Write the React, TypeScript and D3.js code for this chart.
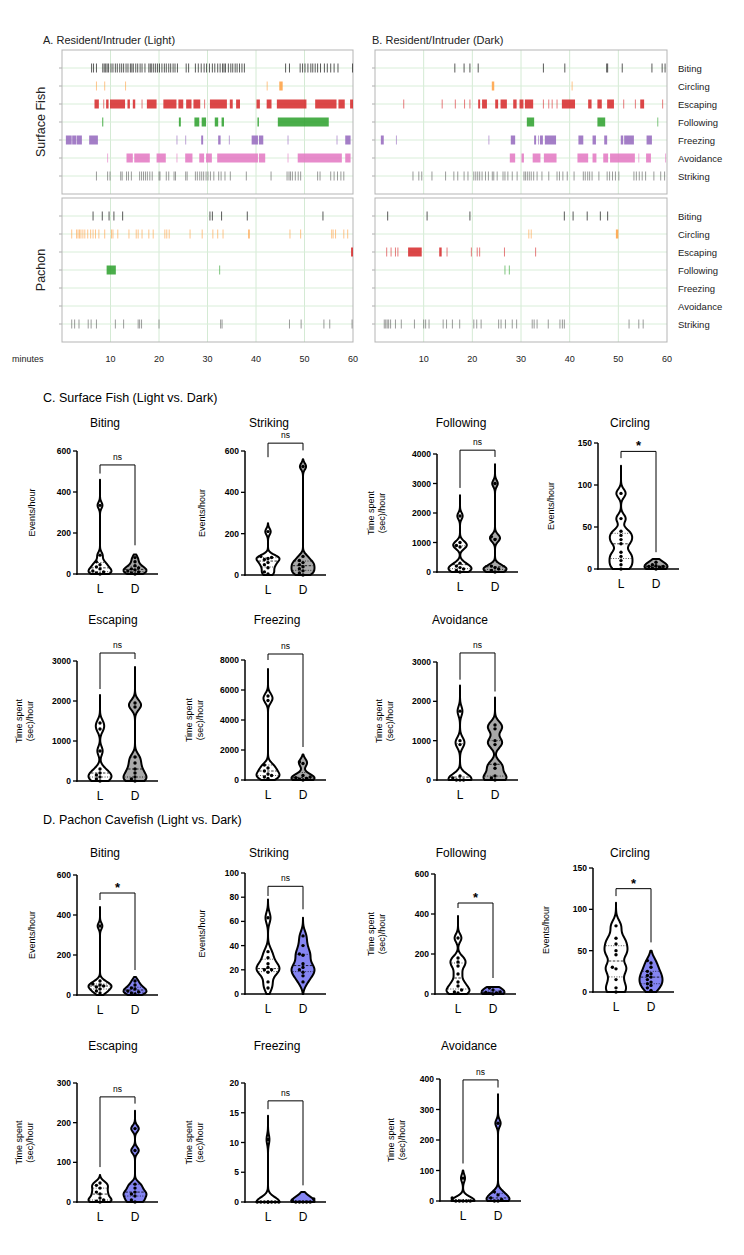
import React from 'react';
import * as d3 from 'd3';

type Ev = number | [number, number];

// ---------- Ethogram data (minutes) ----------
const behaviors = ['Biting', 'Circling', 'Escaping', 'Following', 'Freezing', 'Avoidance', 'Striking'];
const behaviorColors = ['#151515', '#ff9f40', '#d62728', '#2ca02c', '#9467bd', '#e377c2', '#5a5a5a'];
const minuteTicks = [10, 20, 30, 40, 50, 60];

const bitingSL: Ev[] = [6.0, 6.4, 7.0, 8.3, 8.6, 8.9, 9.2, 9.5, 10.0, 10.4, 10.9, 11.3, 11.8, 12.2, 12.6, 13.1, 13.5, 14.0, 14.3, 14.6, 15.1, 15.5, 16.0, 16.4, 17.0, 17.8, 18.1, 18.4, 18.8, 19.2, 19.6, 20.0, 20.5, 21.0, 21.4, 21.9, 22.3, 22.8, 23.2, 23.7, 25.5, 26.0, 27.4, 28.0, 28.6, 29.2, 29.7, 30.3, 30.9, 31.4, 32.0, 32.5, 33.0, 33.3, 33.6, 34.2, 34.7, 35.1, 35.6, 36.0, 36.5, 37.0, 37.5, 46.0, 46.8, 49.0, 49.5, 50.0, 50.6, 51.2, 51.6, 52.1, 52.6, 53.2, 54.0, 54.6, 55.3, 56.0, 56.8, 59.8];
const circlingSL: Ev[] = [7.0, 8.7, 13.0, 42.2, [44.8, 45.5]];
const escapingSL: Ev[] = [[6.7, 7.6], 8.5, [9.1, 9.6], [9.9, 13.0], [13.5, 14.0], [14.6, 15.1], 16.4, [17.5, 19.5], [20.9, 23.6], [24.0, 25.0], [25.6, 26.7], [27.1, 28.5], 29.3, [30.5, 34.0], [34.6, 35.2], [35.9, 36.7], [40.1, 40.8], [42.2, 43.2], [44.3, 50.4], [52.2, 56.6], [57.0, 58.3], [59.4, 60]];
const followingSL: Ev[] = [[8.3, 8.5], [24.1, 24.5], [27.3, 28.3], [28.8, 29.7], [31.5, 32.2], [32.9, 33.4], [40.3, 40.6], [44.5, 55.0]];
const freezingSL: Ev[] = [[0.8, 2.0], [2.1, 2.9], [3.0, 4.1], [5.6, 7.4], 23.6, 25.4, [28.7, 29.1], [32.2, 32.7], 34.4, [39.1, 40.4], [40.6, 41.5], 46.5, 56.6, [58.4, 59.5]];
const avoidanceSL: Ev[] = [9.3, [13.3, 14.6], [14.9, 18.1], [19.5, 21.4], 23.6, [25.4, 26.9], [28.3, 29.3], [29.7, 30.9], [32.0, 40.4], [40.6, 41.9], 46.5, [48.6, 57.7], [58.4, 59.5]];
const strikingSL: Ev[] = [7.0, 9.3, 9.8, 12.0, 12.3, 13.2, 13.6, 14.2, 15.9, 16.3, 16.7, 17.1, 17.5, 18.0, 18.5, 19.9, 20.1, 21.4, 21.9, 23.0, 23.3, 25.4, 25.7, 27.4, 27.8, 28.3, 28.7, 29.1, 29.6, 30.0, 30.5, 31.2, 32.2, 32.7, 33.5, 34.6, 37.9, 43.0, 46.3, 46.7, 47.0, 47.4, 48.0, 48.6, 49.1, 52.6, 53.1, 55.3, 56.0, 56.7, 57.4, 58.0];

const bitingPL: Ev[] = [6.3, 8.2, 9.6, 10.6, 12.4, 30.4, 30.9, 32.8, 38.1, 53.7];
const circlingPL: Ev[] = [1.9, 2.9, 3.2, 3.5, 3.8, 4.2, 4.6, 5.2, 5.8, 6.3, 6.8, 7.5, 8.7, 10.1, 10.4, 11.4, 13.7, 15.2, 15.6, 16.4, 17.8, 18.7, 21.1, 21.5, 22.0, 26.3, 28.8, 31.0, 32.0, 33.1, [38.4, 38.7], 46.9, 49.1, 55.5, 55.8, 56.3, 58.0, 58.8];
const escapingPL: Ev[] = [[59.6, 60]];
const followingPL: Ev[] = [[9.2, 11.1], 32.4];
const freezingPL: Ev[] = [];
const avoidancePL: Ev[] = [];
const strikingPL: Ev[] = [1.9, 2.5, 3.4, 5.3, 5.9, 7.0, 10.9, 12.6, 15.6, 15.9, 16.3, 19.9, 32.6, 32.9, 46.8, 49.2, 53.9, 55.1, 59.7];

const bitingSD: Ev[] = [16.3, 18.2, 19.4, 21.1, 34.5, 38.9, 47.5, 47.7, 50.7, 56.8, 58.9, 59.5];
const circlingSD: Ev[] = [[24.0, 24.5], 40.4];
const escapingSD: Ev[] = [5.8, 13.7, 16.4, 18.3, 19.4, [21.2, 21.6], [22.0, 23.0], [24.7, 25.3], [25.8, 27.1], [28.4, 29.1], [29.7, 30.5], [30.8, 32.5], 34.5, 35.6, 36.3, 37.3, [38.4, 41.1], [43.8, 44.5], [45.7, 46.6], [47.7, 49.1], 51.0, 53.4, [54.5, 55.3], 59.0];
const followingSD: Ev[] = [[31.2, 32.7], [45.7, 47.3], 58.0];
const freezingSD: Ev[] = [[1.2, 1.8], 4.3, 23.3, [27.9, 28.8], [32.7, 33.1], 33.5, [33.9, 34.5], [34.9, 37.2], [41.8, 42.8], [44.7, 45.4], [47.1, 47.7], [50.5, 51.0], [51.2, 53.2], [55.8, 56.9]];
const avoidanceSD: Ev[] = [[27.7, 28.8], [30.1, 30.6], [32.4, 34.0], [34.7, 37.3], [41.6, 43.8], [44.7, 45.5], [46.9, 47.9], [48.3, 53.4], 54.1, [55.7, 56.7], 59.6];
const strikingSD: Ev[] = [7.7, 8.9, 9.5, 11.6, 14.4, 16.1, 16.9, 18.2, 19.0, 20.2, 20.6, 21.0, 21.4, 21.9, 22.6, 23.2, 24.0, 24.3, 25.0, 26.2, 26.6, 27.2, 28.1, 29.1, 30.5, 30.8, 31.2, 31.6, 32.0, 32.5, 33.2, 34.2, 35.6, 37.3, 37.8, 38.5, 39.4, 40.8, 42.7, 43.1, 43.6, 44.0, 44.5, 45.9, 47.6, 48.1, 48.7, 49.3, 50.0, 53.1, 53.6, 54.2, 54.8, 55.5, 57.2, 58.6, 59.4];

const bitingPD: Ev[] = [2.5, 10.6, 19.4, 38.8, 40.6, 43.5, 46.2, 47.7];
const circlingPD: Ev[] = [31.5, 32.0, [49.5, 50.0]];
const escapingPD: Ev[] = [2.3, 3.2, 4.1, 4.6, [6.8, 9.6], [13.2, 13.7], 14.7, 19.7, 20.9, 21.4, 26.5, 32.9];
const followingPD: Ev[] = [26.6, 27.5];
const freezingPD: Ev[] = [];
const avoidancePD: Ev[] = [];
const strikingPD: Ev[] = [1.8, 2.1, 2.4, 2.7, 3.1, 4.1, 5.3, 8.0, 9.9, 10.3, 11.0, 13.9, 14.6, 15.8, 17.3, 20.2, 20.8, 21.7, 25.3, 25.8, 26.7, 28.1, 29.0, 32.2, 32.6, 33.2, 35.5, 37.9, 38.4, 38.8, 52.1, 54.1, 55.0];

// ---------- Violin data ----------
const cBitingL = [335, 92, 60, 45, 35, 25, 15, 10, 5, 0];
const cBitingD = [80, 60, 40, 30, 25, 20, 15, 10, 5, 0];
const cStrikingL = [210, 90, 85, 80, 75, 60, 50, 35, 15, 5];
const cStrikingD = [525, 90, 70, 60, 50, 40, 30, 20, 10, 0];
const cFollowingL = [1900, 1000, 900, 850, 300, 200, 150, 100, 50, 0];
const cFollowingD = [3000, 1200, 1100, 200, 150, 100, 50, 0];
const cCirclingL = [90, 60, 45, 40, 35, 30, 20, 15, 10, 5, 0];
const cCirclingD = [8, 5, 4, 3, 3, 2, 1, 0];
const cEscapingL = [1450, 1300, 750, 300, 200, 150, 100, 50, 0];
const cEscapingD = [1950, 1850, 600, 450, 300, 200, 100, 50, 0];
const cFreezingL = [5600, 5300, 1000, 800, 600, 400, 300, 200, 100];
const cFreezingD = [1200, 1100, 300, 200, 150, 100, 50, 0];
const cAvoidanceL = [1750, 1000, 900, 100, 50, 0, 0, 0];
const cAvoidanceD = [1400, 1300, 1000, 900, 400, 300, 100, 50, 0];

const dBitingL = [345, 70, 55, 50, 45, 40, 30, 20, 10];
const dBitingD = [70, 50, 35, 30, 20, 15, 10, 5];
const dStrikingL = [63, 35, 30, 25, 22, 20, 20, 18, 10, 5];
const dStrikingD = [48, 40, 33, 32, 25, 22, 20, 18, 15, 10];
const dFollowingL = [280, 180, 160, 140, 100, 60, 40, 20, 10, 5];
const dFollowingD = [30, 20, 10, 8, 5, 3, 0];
const dCirclingL = [80, 65, 58, 50, 45, 30, 28, 15, 5, 0];
const dCirclingD = [38, 35, 30, 25, 22, 20, 18, 15, 12, 10, 8, 5, 2];
const dEscapingL = [48, 42, 35, 25, 20, 10, 5, 2, 0];
const dEscapingD = [185, 130, 45, 35, 25, 20, 15, 5, 0];
const dFreezingL = [10.5, 0, 0, 0, 0, 0, 0, 0, 0];
const dFreezingD = [0.5, 0.3, 0, 0, 0, 0, 0];
const dAvoidanceL = [75, 10, 0, 0, 0, 0, 0];
const dAvoidanceD = [255, 30, 20, 10, 5, 0, 0];

// violin tail tops (value where outline ends) [L, D]
const cTails = [[460, 95], [250, 560], [2600, 3650], [123, 12], [2150, 2850], [7400, 1700], [2400, 2100]];
const dTails = [[440, 90], [78, 63], [390, 35], [108, 50], [68, 230], [14.5, 1.7], [100, 350]];
// bracket [top, left leg end, right leg end]
const cBrackets = [[532, 490, 140], [638, 570, 603], [4130, 2850, 3900], [140, 132, 20], [3200, 2300, 3050], [8400, 8000, 2200], [3230, 2550, 2250]];
const dBrackets = [[510, 475, 125], [89, 81, 70], [455, 430, 80], [125, 116, 60], [265, 88, 248], [17, 15.6, 2.8], [397, 123, 372]];
const cSig = ['ns', 'ns', 'ns', '*', 'ns', 'ns', 'ns'];
const dSig = ['*', 'ns', '*', '*', 'ns', 'ns', 'ns'];
const titles = ['Biting', 'Striking', 'Following', 'Circling', 'Escaping', 'Freezing', 'Avoidance'];
const yLabels = [['Events/hour'], ['Events/hour'], ['Time spent', '(sec)/hour'], ['Events/hour'], ['Time spent', '(sec)/hour'], ['Time spent', '(sec)/hour'], ['Time spent', '(sec)/hour']];
const cTicks = [[0, 200, 400, 600], [0, 200, 400, 600], [0, 1000, 2000, 3000, 4000], [0, 50, 100, 150], [0, 1000, 2000, 3000], [0, 2000, 4000, 6000, 8000], [0, 1000, 2000, 3000]];
const dTicks = [[0, 200, 400, 600], [0, 20, 40, 60, 80, 100], [0, 200, 400, 600], [0, 50, 100, 150], [0, 100, 200, 300], [0, 5, 10, 15, 20], [0, 100, 200, 300, 400]];
const cBw = [15, 15, 110, 5, 110, 250, 120];
const dBw = [15, 4.5, 20, 7, 8, 0.8, 12];

const FONT = 'Arial, "Liberation Sans", Helvetica, sans-serif';

// ---------- Layouts ----------
type Lay = { ax: number; y0: number; yT: number; tx: number; ty: number; lx: number };
const cLayout: Lay[] = [
  { ax: 77, y0: 574, yT: 451, tx: 105, ty: 423, lx: -42 },
  { ax: 245, y0: 575, yT: 451, tx: 269, ty: 423, lx: -40 },
  { ax: 437, y0: 572, yT: 454, tx: 461, ty: 423, lx: -63 },
  { ax: 598, y0: 569, yT: 443, tx: 630, ty: 423, lx: -44 },
  { ax: 77, y0: 781, yT: 661, tx: 113, ty: 620, lx: -55 },
  { ax: 245, y0: 780, yT: 660, tx: 277, ty: 620, lx: -53 },
  { ax: 437, y0: 780, yT: 662, tx: 460, ty: 620, lx: -55 },
];
const dLayout: Lay[] = [
  { ax: 77, y0: 995, yT: 875, tx: 105, ty: 853, lx: -42 },
  { ax: 245, y0: 994, yT: 873, tx: 269, ty: 853, lx: -40 },
  { ax: 435, y0: 994, yT: 874, tx: 461, ty: 853, lx: -61 },
  { ax: 593, y0: 992, yT: 868, tx: 630, ty: 853, lx: -44 },
  { ax: 77, y0: 1202, yT: 1083, tx: 113, ty: 1046, lx: -55 },
  { ax: 245, y0: 1202, yT: 1083, tx: 277, ty: 1046, lx: -53 },
  { ax: 440, y0: 1201, yT: 1079, tx: 469, ty: 1046, lx: -46 },
];

function evRange(e: Ev): [number, number] {
  return typeof e === 'number' ? [e, e + 0.16] : e;
}

function EthoBox({ x, top, rows, showLabels }: { x: d3.ScaleLinear<number, number>; top: number; rows: Ev[][]; showLabels: boolean }) {
  const [x0, x1] = x.range();
  const h = 144;
  const rowY = (i: number) => top + (i + 1) * 18;
  return (
    <g>
      {minuteTicks.slice(0, 5).map((t) => (
        <line key={'v' + t} x1={x(t)} x2={x(t)} y1={top} y2={top + h} stroke="#d4ead4" strokeWidth={1} />
      ))}
      {behaviors.map((b, i) => (
        <g key={b}>
          <line x1={x0} x2={x1} y1={rowY(i)} y2={rowY(i)} stroke="#d9eed9" strokeWidth={1} />
          <line x1={x0 - 3} x2={x0} y1={rowY(i)} y2={rowY(i)} stroke="#999" strokeWidth={0.8} />
        </g>
      ))}
      <rect x={x0} y={top} width={x1 - x0} height={h} fill="none" stroke="#b5b5b5" strokeWidth={1} />
      {rows.map((evs, i) =>
        evs.map((e, j) => {
          const [s, en] = evRange(e);
          const isTick = typeof e === 'number';
          const xs = x(s);
          const w = Math.max(1, x(Math.min(en, 60)) - xs);
          return (
            <rect key={i + '-' + j} x={xs} y={rowY(i) - 4.5} width={w} height={9} fill={behaviorColors[i]} opacity={isTick ? (i === 0 ? 0.7 : 0.6) : 0.85} />
          );
        })
      )}
      {showLabels &&
        behaviors.map((b, i) => (
          <text key={'l' + b} x={x1 + 11} y={rowY(i) + 3.5} fontSize={9.5} fontFamily={FONT} fill="#222">
            {b}
          </text>
        ))}
    </g>
  );
}

function Violin({ data, bw, tail, y, cx, fill }: { data: number[]; bw: number; tail: number; y: d3.ScaleLinear<number, number>; cx: number; fill: string }) {
  const N = 160;
  const pts = d3.range(N + 1).map((i) => (tail * i) / N);
  const dens = pts.map((v) => d3.sum(data, (d) => Math.exp(-0.5 * ((v - d) / bw) ** 2)));
  const m = d3.max(dens) || 1;
  const maxHalf = 11.5;
  const rows = pts.map((v, i) => ({ v, w: (dens[i] / m) * maxHalf }));
  const area = d3
    .area<{ v: number; w: number }>()
    .x0((d) => cx - d.w)
    .x1((d) => cx + d.w)
    .y((d) => y(d.v))
    .curve(d3.curveBasis);
  const widthAt = (v: number) => {
    const dd = d3.sum(data, (d) => Math.exp(-0.5 * ((v - d) / bw) ** 2));
    return (dd / m) * maxHalf;
  };
  const sorted = [...data].sort((a, b) => a - b);
  const med = d3.quantile(sorted, 0.5) as number;
  const q1 = d3.quantile(sorted, 0.25) as number;
  const q3 = d3.quantile(sorted, 0.75) as number;
  // deterministic beeswarm
  const placed: { px: number; py: number }[] = [];
  const offsets = [0, -3.6, 3.6, -7.2, 7.2, -10.8, 10.8];
  sorted.forEach((v) => {
    const py = y(v);
    for (const o of offsets) {
      const px = cx + o;
      if (placed.every((p) => Math.hypot(p.px - px, p.py - py) > 3.3)) {
        placed.push({ px, py });
        return;
      }
    }
    placed.push({ px: cx, py });
  });
  return (
    <g>
      <path d={area(rows) || ''} fill={fill} stroke="#000" strokeWidth={2} strokeLinejoin="round" />
      {[q1, q3].map((q, i) => {
        const w = widthAt(q);
        return w > 1.5 ? <line key={'q' + i} x1={cx - w + 1} x2={cx + w - 1} y1={y(q)} y2={y(q)} stroke="#000" strokeWidth={0.7} strokeDasharray="1,1.5" /> : null;
      })}
      {widthAt(med) > 1.5 && (
        <line x1={cx - widthAt(med) + 1} x2={cx + widthAt(med) - 1} y1={y(med)} y2={y(med)} stroke="#000" strokeWidth={0.8} strokeDasharray="2.5,1.5" />
      )}
      {placed.map((p, i) => (
        <circle key={i} cx={p.px} cy={p.py} r={1.7} fill="#000" />
      ))}
    </g>
  );
}

function ViolinPanel({ lay, idx, L, D, tails, bracket, sig, ticks, bw, fillD }: { lay: Lay; idx: number; L: number[]; D: number[]; tails: number[]; bracket: number[]; sig: string; ticks: number[]; bw: number; fillD: string }) {
  const dmax = ticks[ticks.length - 1];
  const y = d3.scaleLinear().domain([0, dmax]).range([lay.y0, lay.yT]);
  const lx = lay.ax + 23;
  const dx = lay.ax + 58;
  const fmt = d3.format('d');
  const yMid = (lay.y0 + lay.yT) / 2;
  const labels = yLabels[idx];
  const by = y(bracket[0]);
  return (
    <g fontFamily={FONT}>
      <text x={lay.tx} y={lay.ty + 4} textAnchor="middle" fontSize={12}>
        {titles[idx]}
      </text>
      {labels.map((t, i) => {
        const xx = lay.ax + lay.lx + (labels.length === 2 ? i * 11 : 0);
        return (
          <text key={t} transform={`translate(${xx},${yMid}) rotate(-90)`} textAnchor="middle" fontSize={9}>
            {t}
          </text>
        );
      })}
      <Violin data={L} bw={bw} tail={tails[0]} y={y} cx={lx} fill="#fff" />
      <Violin data={D} bw={bw} tail={tails[1]} y={y} cx={dx} fill={fillD} />
      <line x1={lay.ax} x2={lay.ax} y1={lay.y0 + 0.75} y2={lay.yT} stroke="#000" strokeWidth={1.5} />
      <line x1={lay.ax - 0.75} x2={lay.ax + 81} y1={lay.y0} y2={lay.y0} stroke="#000" strokeWidth={1.5} />
      {ticks.map((t) => (
        <g key={t}>
          <line x1={lay.ax - 4} x2={lay.ax} y1={y(t)} y2={y(t)} stroke="#000" strokeWidth={1.3} />
          <text x={lay.ax - 6} y={y(t) + 3} textAnchor="end" fontSize={8.5} fontWeight="bold">
            {fmt(t)}
          </text>
        </g>
      ))}
      <text x={lx} y={lay.y0 + 19} textAnchor="middle" fontSize={12}>L</text>
      <text x={dx} y={lay.y0 + 19} textAnchor="middle" fontSize={12}>D</text>
      <path d={`M${lx},${y(bracket[1])}V${by}H${dx}V${y(bracket[2])}`} fill="none" stroke="#000" strokeWidth={1} />
      {sig === '*' ? (
        <text x={(lx + dx) / 2} y={by - 1} textAnchor="middle" fontSize={13} fontWeight="bold">*</text>
      ) : (
        <text x={(lx + dx) / 2} y={by - 5} textAnchor="middle" fontSize={8.5}>ns</text>
      )}
    </g>
  );
}

export default function App() {
  const xA = d3.scaleLinear().domain([0, 60]).range([62, 353]);
  const xB = d3.scaleLinear().domain([0, 60]).range([375, 667]);
  const sl = [bitingSL, circlingSL, escapingSL, followingSL, freezingSL, avoidanceSL, strikingSL];
  const pl = [bitingPL, circlingPL, escapingPL, followingPL, freezingPL, avoidancePL, strikingPL];
  const sd = [bitingSD, circlingSD, escapingSD, followingSD, freezingSD, avoidanceSD, strikingSD];
  const pd = [bitingPD, circlingPD, escapingPD, followingPD, freezingPD, avoidancePD, strikingPD];
  const cData = [[cBitingL, cBitingD], [cStrikingL, cStrikingD], [cFollowingL, cFollowingD], [cCirclingL, cCirclingD], [cEscapingL, cEscapingD], [cFreezingL, cFreezingD], [cAvoidanceL, cAvoidanceD]];
  const dData = [[dBitingL, dBitingD], [dStrikingL, dStrikingD], [dFollowingL, dFollowingD], [dCirclingL, dCirclingD], [dEscapingL, dEscapingD], [dFreezingL, dFreezingD], [dAvoidanceL, dAvoidanceD]];
  return (
    <svg width={744} height={1255} style={{ position: 'absolute', left: 0, top: 0, background: '#fff' }} fontFamily={FONT}>
      <rect width={744} height={1255} fill="#fff" />
      <text x={43} y={44} fontSize={11} fill="#222">A. Resident/Intruder (Light)</text>
      <text x={372} y={44} fontSize={11} fill="#222">B. Resident/Intruder (Dark)</text>
      <text transform="translate(45,122) rotate(-90)" textAnchor="middle" fontSize={12.5} fill="#222">Surface Fish</text>
      <text transform="translate(45,270) rotate(-90)" textAnchor="middle" fontSize={12.5} fill="#222">Pachon</text>
      <EthoBox x={xA} top={50} rows={sl} showLabels={false} />
      <EthoBox x={xA} top={198} rows={pl} showLabels={false} />
      <EthoBox x={xB} top={50} rows={sd} showLabels={true} />
      <EthoBox x={xB} top={198} rows={pd} showLabels={true} />
      <text x={12} y={362} fontSize={9} fill="#222">minutes</text>
      {minuteTicks.map((t) => (
        <g key={t}>
          <text x={xA(t)} y={362} fontSize={9} textAnchor="middle" fill="#222">{t}</text>
          <text x={xB(t)} y={362} fontSize={9} textAnchor="middle" fill="#222">{t}</text>
        </g>
      ))}
      <text x={43} y={402} fontSize={12.5}>C. Surface Fish (Light vs. Dark)</text>
      <text x={43} y={824} fontSize={12.5}>D. Pachon Cavefish (Light vs. Dark)</text>
      {cLayout.map((lay, i) => (
        <ViolinPanel key={'c' + i} lay={lay} idx={i} L={cData[i][0]} D={cData[i][1]} tails={cTails[i]} bracket={cBrackets[i]} sig={cSig[i]} ticks={cTicks[i]} bw={cBw[i]} fillD="#a9a9a9" />
      ))}
      {dLayout.map((lay, i) => (
        <ViolinPanel key={'d' + i} lay={lay} idx={i} L={dData[i][0]} D={dData[i][1]} tails={dTails[i]} bracket={dBrackets[i]} sig={dSig[i]} ticks={dTicks[i]} bw={dBw[i]} fillD="#8585f2" />
      ))}
    </svg>
  );
}
